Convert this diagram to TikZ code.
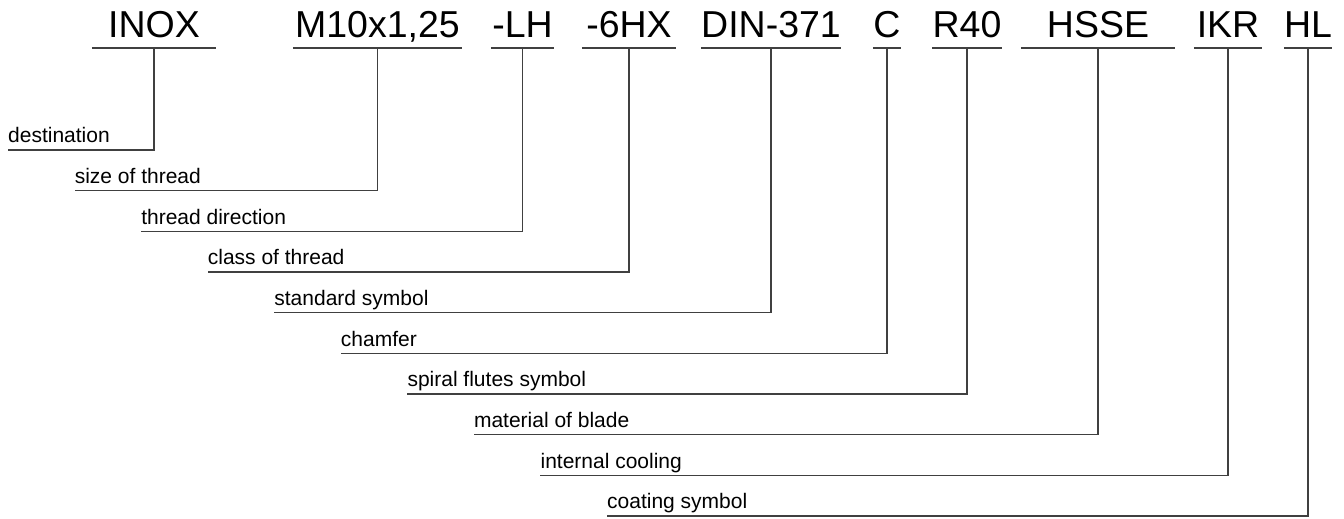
\documentclass[tikz,border=0pt]{standalone}
\usepackage{fontspec}
\setmainfont{Liberation Sans}
\tikzset{
  code/.style={anchor=south,inner sep=0pt,text depth=10pt,font=\fontsize{37.5}{40}\selectfont},
  lbl/.style={anchor=south west,inner sep=0pt,text depth=7pt,font=\fontsize{21}{24}\selectfont},
  leader/.style={line width=1.1pt,black!75}
}
\begin{document}
\begin{tikzpicture}[x=1pt,y=-1pt]
\useasboundingbox (0,0) rectangle (1344,519);
\foreach \nm/\cx/\w/\txt/\lab [count=\i from 0] in {
  inox/154/124/INOX/destination,
  size/377.5/169/{M10x1,25}/size of thread,
  dir/522.5/63/-LH/thread direction,
  class/629/94/-6HX/class of thread,
  std/771/134/DIN-371/standard symbol,
  chamf/887/28/C/chamfer,
  spiral/967/68/R40/spiral flutes symbol,
  mat/1098/154/HSSE/material of blade,
  cool/1228/68/IKR/internal cooling,
  coat/1308/48/HL/coating symbol}
{
  \node[code,minimum width=\w pt] (\nm) at (\cx,48) {\txt};
  \node[lbl] (\nm-lab) at ({8+66.55*\i},{150+40.67*\i}) {\lab};
  \draw[leader] (\nm.south west) -- (\nm.south east);
  \draw[leader] (\nm.south) |- (\nm-lab.south west);
}
\end{tikzpicture}
\end{document}
